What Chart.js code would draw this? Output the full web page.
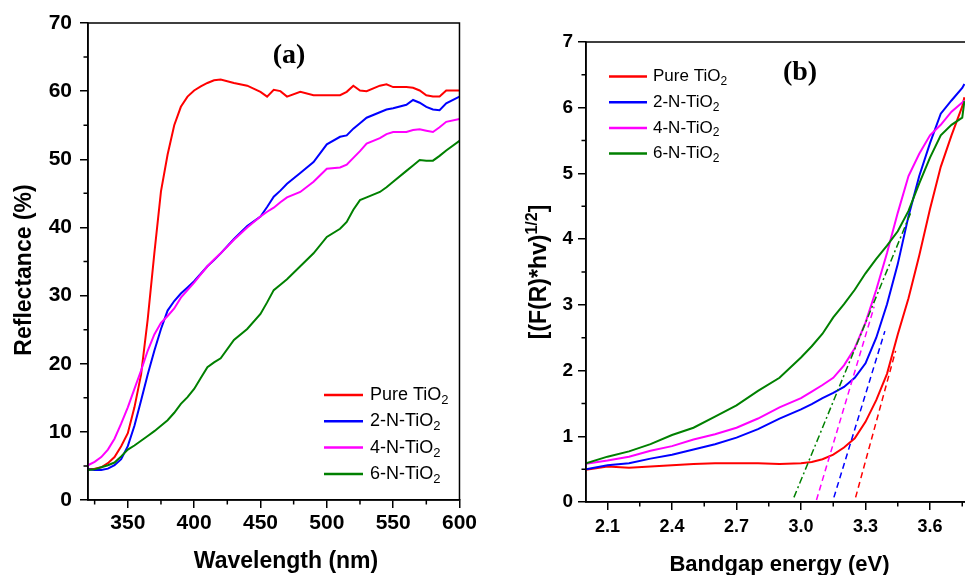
<!DOCTYPE html>
<html>
<head>
<meta charset="utf-8">
<script src="https://cdn.jsdelivr.net/npm/chart.js@4.4.0/dist/chart.umd.min.js"></script>
<style>
  html, body { margin: 0; padding: 0; background: #fff; overflow: hidden; }
  #wrapA { position: absolute; left: 0; top: 0; width: 480px; height: 575px; }
  #wrapB { position: absolute; left: 490px; top: 0; width: 500px; height: 575px; }
</style>
</head>
<body>
<div id="wrapA"><canvas id="chartA" width="480" height="575"></canvas></div>
<div id="wrapB"><canvas id="chartB" width="500" height="575"></canvas></div>
<script>
// ---- data, panel (a): reflectance vs wavelength ----
let seriesNames = ['Pure TiO2', '2-N-TiO2', '4-N-TiO2', '6-N-TiO2'];
let seriesColors = ['#ff0000', '#0000ff', '#ff00ff', '#008000'];

let wavelength = [320, 325, 330, 335, 340, 345, 350, 355, 360, 365, 370, 375, 380, 385, 390, 395, 400, 405, 410, 415, 420,
  430, 440, 450, 455, 460, 465, 470, 480, 490, 500, 510, 515, 520, 525, 530, 540, 545, 550, 560, 565, 570, 575, 580, 585, 590, 600];
let reflPure = [4.5, 4.6, 4.8, 5.4, 6.3, 7.9, 9.8, 13.6, 18.4, 26.5, 36.2, 45.3, 50.7, 55.0, 57.7, 59.2, 60.1, 60.7, 61.2, 61.6, 61.7,
  61.2, 60.8, 59.9, 59.2, 60.2, 60.0, 59.2, 59.9, 59.4, 59.4, 59.4, 59.9, 60.8, 60.1, 60.0, 60.8, 61.0, 60.6, 60.6, 60.5, 60.1, 59.4, 59.2, 59.2, 60.1, 60.1];
let refl2N = [4.5, 4.4, 4.4, 4.6, 5.1, 6.0, 7.9, 10.9, 14.6, 18.4, 21.9, 25.1, 27.8, 29.2, 30.3, 31.2, 32.1, 33.2, 34.3, 35.2, 36.2,
  38.3, 40.2, 41.6, 43.0, 44.5, 45.4, 46.4, 48.0, 49.6, 52.2, 53.3, 53.5, 54.5, 55.3, 56.1, 56.9, 57.3, 57.5, 58.0, 58.7, 58.3, 57.7, 57.3, 57.2, 58.2, 59.2];
let refl4N = [5.1, 5.6, 6.3, 7.4, 9.0, 11.2, 13.6, 16.3, 19.0, 21.9, 24.3, 26.0, 27.0, 28.1, 29.7, 30.8, 31.9, 33.1, 34.3, 35.3, 36.2,
  38.2, 40.0, 41.6, 42.3, 42.9, 43.7, 44.4, 45.2, 46.7, 48.6, 48.8, 49.2, 50.2, 51.2, 52.3, 53.1, 53.7, 54.0, 54.0, 54.3, 54.4, 54.2, 54.0, 54.7, 55.5, 55.9];
let refl6N = [4.4, 4.5, 4.8, 5.1, 5.5, 6.4, 7.4, 8.0, 8.7, 9.4, 10.1, 10.9, 11.7, 12.8, 14.1, 15.1, 16.3, 17.9, 19.5, 20.2, 20.8,
  23.5, 25.1, 27.3, 29.0, 30.8, 31.6, 32.4, 34.3, 36.2, 38.6, 39.8, 40.8, 42.6, 44.0, 44.4, 45.2, 45.9, 46.7, 48.3, 49.1, 49.9, 49.8, 49.8, 50.5, 51.3, 52.7];
let wavelengthTicks = [350, 400, 450, 500, 550, 600];
let wavelengthMinor = [325, 375, 425, 475, 525, 575];
let reflTicks = [0, 10, 20, 30, 40, 50, 60, 70];
let reflMinor = [5, 15, 25, 35, 45, 55, 65];

// ---- data, panel (b): Tauc plot ----
let energy = [2.00, 2.10, 2.20, 2.30, 2.40, 2.50, 2.60, 2.70, 2.80, 2.90, 3.00, 3.05, 3.10, 3.15, 3.20, 3.25, 3.30, 3.35,
  3.40, 3.45, 3.50, 3.55, 3.60, 3.65, 3.70, 3.75, 3.76];
let taucPure = [0.49, 0.54, 0.52, 0.54, 0.56, 0.58, 0.59, 0.59, 0.59, 0.58, 0.59, 0.61, 0.65, 0.72, 0.83, 0.97, 1.22, 1.55,
  1.95, 2.55, 3.10, 3.75, 4.46, 5.10, 5.58, 6.02, 6.16];
let tauc2N = [0.50, 0.56, 0.59, 0.66, 0.72, 0.80, 0.88, 0.98, 1.11, 1.27, 1.41, 1.49, 1.58, 1.66, 1.75, 1.89, 2.11, 2.50,
  3.01, 3.62, 4.35, 4.96, 5.46, 5.91, 6.11, 6.30, 6.36];
let tauc4N = [0.58, 0.63, 0.69, 0.78, 0.85, 0.95, 1.03, 1.13, 1.27, 1.44, 1.58, 1.68, 1.78, 1.89, 2.08, 2.34, 2.73, 3.23,
  3.79, 4.40, 4.96, 5.30, 5.58, 5.74, 5.94, 6.08, 6.11];
let tauc6N = [0.59, 0.69, 0.77, 0.88, 1.02, 1.13, 1.30, 1.47, 1.69, 1.89, 2.20, 2.37, 2.56, 2.81, 3.01, 3.23, 3.48, 3.70,
  3.90, 4.12, 4.43, 4.85, 5.24, 5.58, 5.74, 5.85, 6.10];
// tangent (extrapolation) lines: [x0, x1], [y0, y1]
let tangentX = [[3.254, 3.44], [3.153, 3.39], [3.072, 3.34], [2.967, 3.51]];
let tangentY = [[0.07, 2.30], [0.07, 2.60], [0.03, 2.97], [0.07, 4.40]];
let energyTicks = [2.1, 2.4, 2.7, 3.0, 3.3, 3.6];
let energyMinor = [2.25, 2.55, 2.85, 3.15, 3.45, 3.75];
let taucTicks = [0, 1, 2, 3, 4, 5, 6, 7];
let taucMinor = [0.5, 1.5, 2.5, 3.5, 4.5, 5.5, 6.5];

const SANS = "'Liberation Sans', Arial, sans-serif";
const SERIF = "'Liberation Serif', 'Times New Roman', serif";

function toPoints(xs, ys) {
  return xs.map((x, i) => ({ x: x, y: ys[i] }));
}

// draws a row of text pieces (for sub/superscripts)
function drawParts(ctx, parts, x, y, align) {
  let total = 0;
  parts.forEach(p => { ctx.font = p.font; total += ctx.measureText(p.t).width; });
  let cx = align === 'center' ? x - total / 2 : x;
  parts.forEach(p => {
    ctx.font = p.font;
    ctx.fillText(p.t, cx, y + (p.dy || 0));
    cx += ctx.measureText(p.t).width;
  });
}

function subParts(label, size) {
  let m = label.match(/^(.*?)(\d)$/);
  if (!m) return [{ t: label, font: size + 'px ' + SANS }];
  return [{ t: m[1], font: size + 'px ' + SANS }, { t: m[2], font: Math.round(size * 0.7) + 'px ' + SANS, dy: size * 0.3 }];
}

const decorPlugin = {
  id: 'decor',
  afterDraw(chart, args, opts) {
    let ctx = chart.ctx;
    let a = chart.chartArea;
    ctx.save();
    // frame
    ctx.strokeStyle = '#000';
    ctx.lineWidth = 1.5;
    ctx.strokeRect(a.left, a.top, a.right - a.left, a.bottom - a.top);
    // minor ticks
    let xs = chart.scales.x, ys = chart.scales.y;
    ctx.beginPath();
    opts.minorX.forEach(v => {
      let px = xs.getPixelForValue(v);
      ctx.moveTo(px, a.bottom); ctx.lineTo(px, a.bottom + 4.5);
    });
    opts.minorY.forEach(v => {
      let py = ys.getPixelForValue(v);
      ctx.moveTo(a.left, py); ctx.lineTo(a.left - 4.5, py);
    });
    ctx.stroke();

    // legend
    let lg = opts.legend;
    ctx.textBaseline = 'middle';
    ctx.textAlign = 'left';
    ctx.fillStyle = '#000';
    seriesNames.forEach((name, i) => {
      let y = lg.y + i * lg.dy;
      ctx.strokeStyle = seriesColors[i];
      ctx.lineWidth = 2.5;
      ctx.beginPath();
      ctx.moveTo(lg.x, y); ctx.lineTo(lg.x + lg.len, y);
      ctx.stroke();
      drawParts(ctx, subParts(name, lg.size), lg.x + lg.len + lg.gap, y, 'left');
    });

    // titles and panel label
    ctx.textBaseline = 'alphabetic';
    opts.texts.forEach(tx => {
      ctx.save();
      ctx.translate(tx.x, tx.y);
      if (tx.rot) ctx.rotate(tx.rot);
      if (tx.middle) ctx.textBaseline = 'middle';
      drawParts(ctx, tx.parts, 0, 0, 'center');
      ctx.restore();
    });
    ctx.restore();
  }
};

function axisOpts(min, max, tickVals, fixedSize, isX, fontSize, pad, fmt) {
  return {
    type: 'linear',
    min: min,
    max: max,
    afterBuildTicks: s => { s.ticks = tickVals.map(v => ({ value: v })); },
    afterFit: s => { if (isX) s.height = fixedSize; else s.width = fixedSize; },
    grid: { display: true, drawOnChartArea: false, drawTicks: true, tickLength: 8, color: '#000', lineWidth: 1.5 },
    border: { display: true, color: '#000', width: 1.5 },
    ticks: {
      color: '#000',
      padding: pad,
      autoSkip: false,
      maxRotation: 0,
      font: { family: SANS, size: fontSize, weight: 'bold' },
      callback: v => fmt(v)
    }
  };
}

function lineSet(label, pts, color, width, dash) {
  return {
    label: label,
    data: pts,
    borderColor: color,
    backgroundColor: color,
    borderWidth: width,
    borderDash: dash || [],
    pointRadius: 0,
    tension: 0,
    fill: false
  };
}

// ---- chart (a) ----
let setsA = [reflPure, refl2N, refl4N, refl6N].map((ys, i) =>
  lineSet(seriesNames[i], toPoints(wavelength, ys), seriesColors[i], 2));
setsA.reverse();

let chartA = new Chart(document.getElementById('chartA'), {
  type: 'line',
  data: { datasets: setsA },
  options: {
    responsive: false,
    animation: false,
    layout: { padding: { top: 23, right: 15, left: 0, bottom: 0 } },
    scales: {
      x: axisOpts(320, 600, wavelengthTicks, 75, true, 21, 3, v => String(v)),
      y: axisOpts(0, 70, reflTicks, 88, false, 21, 8, v => String(v))
    },
    plugins: {
      legend: { display: false },
      tooltip: { enabled: false },
      decor: {
        minorX: wavelengthMinor,
        minorY: reflMinor,
        legend: { x: 324, y: 395, dy: 26.3, len: 39, gap: 7, size: 18 },
        texts: [
          { x: 286, y: 568, parts: [{ t: 'Wavelength (nm)', font: 'bold 23px ' + SANS }] },
          { x: 31, y: 270, rot: -Math.PI / 2, parts: [{ t: 'Reflectance (%)', font: 'bold 23px ' + SANS }] },
          { x: 289, y: 56, middle: true, parts: [{ t: '(a)', font: 'bold 28px ' + SERIF }] }
        ]
      }
    }
  },
  plugins: [decorPlugin]
});

// ---- chart (b) ----
let setsB = [];
[taucPure, tauc2N, tauc4N, tauc6N].forEach((ys, i) => {
  setsB.push(lineSet(seriesNames[i], toPoints(energy, ys), seriesColors[i], 2));
});
tangentX.forEach((xs, i) => {
  let dash = i === 3 ? [7, 3, 2, 3] : [6, 4];
  setsB.push(lineSet(seriesNames[i] + ' fit', toPoints(xs, tangentY[i]), seriesColors[i], 1.5, dash));
});
setsB.reverse();

let chartB = new Chart(document.getElementById('chartB'), {
  type: 'line',
  data: { datasets: setsB },
  options: {
    responsive: false,
    animation: false,
    layout: { padding: { top: 42, right: 17, left: 0, bottom: 0 } },
    scales: {
      x: axisOpts(2.0, 3.8, energyTicks, 73, true, 18, 6, v => v.toFixed(1)),
      y: axisOpts(0, 7, taucTicks, 96, false, 19, 5, v => String(v))
    },
    plugins: {
      legend: { display: false },
      tooltip: { enabled: false },
      decor: {
        minorX: energyMinor,
        minorY: taucMinor,
        legend: { x: 119, y: 76.5, dy: 25.7, len: 38, gap: 6, size: 17 },
        texts: [
          { x: 289.5, y: 571, parts: [{ t: 'Bandgap energy (eV)', font: 'bold 22px ' + SANS }] },
          { x: 56, y: 272, rot: -Math.PI / 2, parts: [
            { t: '[(F(R)*hv)', font: 'bold 23px ' + SANS },
            { t: '1/2', font: 'bold 16px ' + SANS, dy: -9 },
            { t: ']', font: 'bold 23px ' + SANS }
          ] },
          { x: 310, y: 73, middle: true, parts: [{ t: '(b)', font: 'bold 28px ' + SERIF }] }
        ]
      }
    }
  },
  plugins: [decorPlugin]
});
</script>
</body>
</html>
